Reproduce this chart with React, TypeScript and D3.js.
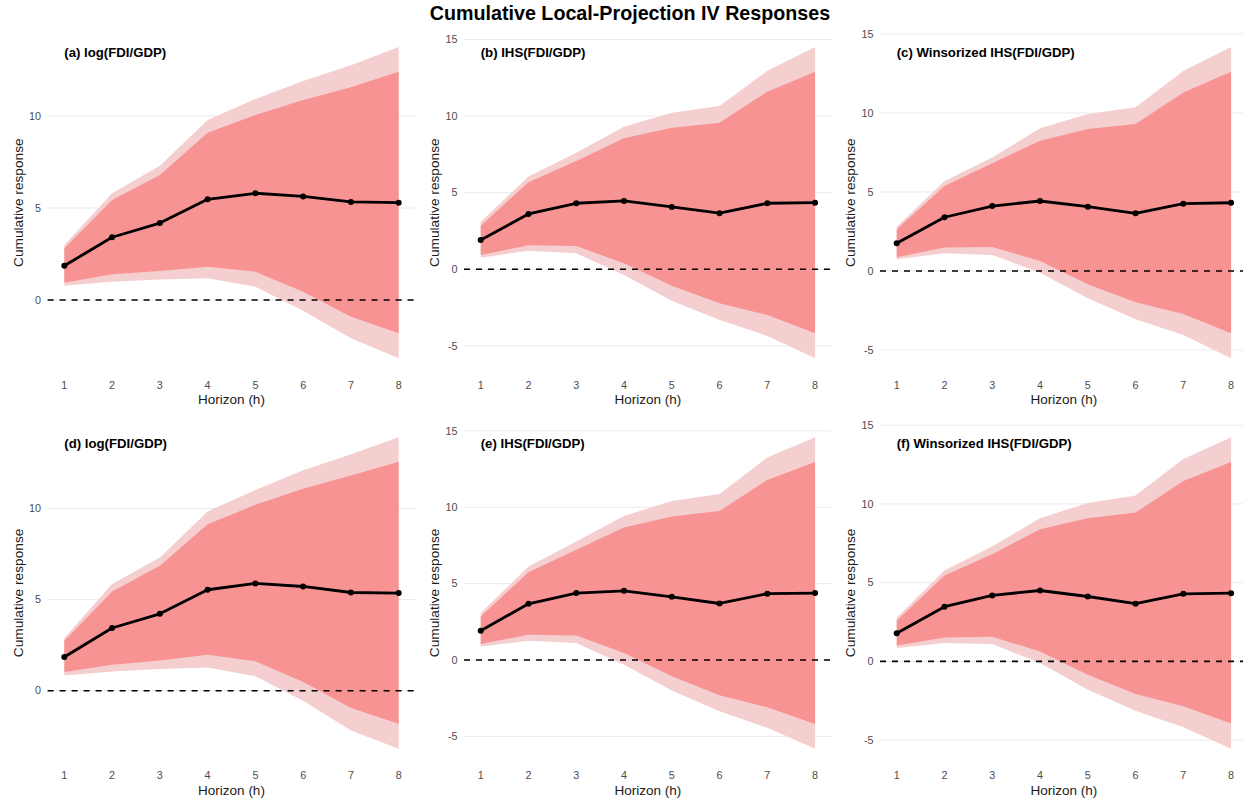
import { useEffect, useRef } from "react";
import * as d3 from "d3";

const horizons = [1, 2, 3, 4, 5, 6, 7, 8];

const panelTitles = [
  "(a) log(FDI/GDP)",
  "(b) IHS(FDI/GDP)",
  "(c) Winsorized IHS(FDI/GDP)",
  "(d) log(FDI/GDP)",
  "(e) IHS(FDI/GDP)",
  "(f) Winsorized IHS(FDI/GDP)",
];

// point estimate, 68% band, 90% band per panel
const irfA = [1.86, 3.41, 4.18, 5.47, 5.8, 5.63, 5.33, 5.29];
const hi90A = [2.99, 5.8, 7.3, 9.78, 10.92, 11.9, 12.75, 13.75];
const hi68A = [2.81, 5.43, 6.79, 9.09, 10.05, 10.87, 11.56, 12.41];
const lo68A = [0.94, 1.4, 1.58, 1.81, 1.54, 0.45, -0.91, -1.81];
const lo90A = [0.78, 0.99, 1.12, 1.18, 0.72, -0.58, -2.08, -3.17];

const irfB = [1.91, 3.61, 4.31, 4.46, 4.07, 3.66, 4.31, 4.35];
const hi90B = [3.11, 6.05, 7.61, 9.31, 10.22, 10.66, 12.96, 14.51];
const hi68B = [2.85, 5.68, 7.07, 8.55, 9.24, 9.57, 11.59, 12.9];
const lo68B = [0.93, 1.57, 1.52, 0.39, -1.07, -2.22, -2.98, -4.18];
const lo90B = [0.76, 1.21, 1.04, -0.37, -2.05, -3.31, -4.35, -5.81];

const irfC = [1.75, 3.4, 4.11, 4.43, 4.07, 3.65, 4.26, 4.32];
const hi90C = [2.8, 5.7, 7.19, 9.03, 9.94, 10.36, 12.66, 14.18];
const hi68C = [2.64, 5.38, 6.82, 8.25, 8.99, 9.3, 11.29, 12.61];
const lo68C = [0.87, 1.48, 1.52, 0.63, -0.84, -1.98, -2.72, -3.94];
const lo90C = [0.74, 1.12, 1.01, -0.11, -1.73, -3.06, -4.05, -5.53];

const irfD = [1.85, 3.44, 4.22, 5.54, 5.89, 5.72, 5.39, 5.36];
const hi90D = [2.89, 5.85, 7.31, 9.84, 11.02, 12.1, 12.98, 13.91];
const hi68D = [2.74, 5.45, 6.86, 9.14, 10.2, 11.08, 11.81, 12.56];
const lo68D = [1.02, 1.43, 1.66, 1.97, 1.61, 0.48, -0.95, -1.81];
const lo90D = [0.84, 1.06, 1.19, 1.28, 0.79, -0.55, -2.19, -3.18];

const irfE = [1.92, 3.68, 4.38, 4.53, 4.14, 3.7, 4.34, 4.38];
const hi90E = [3.07, 6.12, 7.76, 9.43, 10.41, 10.87, 13.25, 14.58];
const hi68E = [2.85, 5.75, 7.21, 8.67, 9.39, 9.76, 11.79, 12.96];
const lo68E = [1.05, 1.66, 1.61, 0.46, -1.07, -2.31, -3.09, -4.18];
const lo90E = [0.89, 1.26, 1.11, -0.31, -2.0, -3.36, -4.44, -5.8];

const irfF = [1.78, 3.47, 4.19, 4.5, 4.12, 3.66, 4.29, 4.33];
const hi90F = [2.79, 5.77, 7.29, 9.09, 10.06, 10.53, 12.85, 14.23];
const hi68F = [2.58, 5.45, 6.81, 8.39, 9.09, 9.45, 11.46, 12.66];
const lo68F = [1.01, 1.52, 1.56, 0.63, -0.85, -2.07, -2.85, -3.95];
const lo90F = [0.85, 1.16, 1.1, -0.11, -1.8, -3.13, -4.19, -5.54];

const series = [
  [irfA, lo68A, hi68A, lo90A, hi90A],
  [irfB, lo68B, hi68B, lo90B, hi90B],
  [irfC, lo68C, hi68C, lo90C, hi90C],
  [irfD, lo68D, hi68D, lo90D, hi90D],
  [irfE, lo68E, hi68E, lo90E, hi90E],
  [irfF, lo68F, hi68F, lo90F, hi90F],
];

const W = 1243;
const H = 800;
const FONT = "'Liberation Sans', Arial, sans-serif";

export default function App() {
  const ref = useRef<SVGSVGElement | null>(null);

  useEffect(() => {
    const svg = d3.select(ref.current);
    svg.selectAll("*").remove();

    svg
      .append("text")
      .attr("x", 630)
      .attr("y", 19.5)
      .attr("text-anchor", "middle")
      .attr("font-family", FONT)
      .attr("font-weight", "bold")
      .attr("font-size", 19.7)
      .text("Cumulative Local-Projection IV Responses");

    const colLeft = [47.6, 464, 880];
    const rowTop = [31.4, 421.7];
    const pw = 367.8;
    const ph = 342.5;

    series.forEach((s, i) => {
      const [irf, lo68, hi68, lo90, hi90] = s;
      const left = colLeft[i % 3];
      const top = rowTop[Math.floor(i / 3)];

      const x = d3
        .scaleLinear()
        .domain([0.65, 8.35])
        .range([left, left + pw]);

      const lo = d3.min(lo90) as number;
      const hi = d3.max(hi90) as number;
      const pad = (hi - lo) * 0.05;
      const y = d3
        .scaleLinear()
        .domain([lo - pad, hi + pad])
        .range([top + ph, top]);

      const g = svg.append("g");

      // horizontal grid
      g.selectAll("line.grid")
        .data(y.ticks(5))
        .enter()
        .append("line")
        .attr("x1", left)
        .attr("x2", left + pw)
        .attr("y1", (d) => y(d))
        .attr("y2", (d) => y(d))
        .attr("stroke", "#ebebeb")
        .attr("stroke-width", 1);

      const band = (a: number[], b: number[]) =>
        d3
          .area<number>()
          .x((d) => x(d))
          .y0((_, j) => y(a[j]))
          .y1((_, j) => y(b[j]))(horizons);

      g.append("path").attr("d", band(lo90, hi90)).attr("fill", "#f5cfd0");
      g.append("path").attr("d", band(lo68, hi68)).attr("fill", "#f89393");

      g.append("line")
        .attr("x1", left)
        .attr("x2", left + pw)
        .attr("y1", y(0))
        .attr("y2", y(0))
        .attr("stroke", "#000")
        .attr("stroke-width", 1.6)
        .attr("stroke-dasharray", "6,6");

      const line = d3
        .line<number>()
        .x((d) => x(d))
        .y((_, j) => y(irf[j]));

      g.append("path")
        .attr("d", line(horizons))
        .attr("fill", "none")
        .attr("stroke", "#000")
        .attr("stroke-width", 2.8)
        .attr("stroke-linejoin", "round");

      g.selectAll("circle")
        .data(horizons)
        .enter()
        .append("circle")
        .attr("cx", (d) => x(d))
        .attr("cy", (_, j) => y(irf[j]))
        .attr("r", 3)
        .attr("fill", "#000");

      // y tick labels
      g.selectAll("text.ytick")
        .data(y.ticks(5))
        .enter()
        .append("text")
        .attr("x", left - 6.5)
        .attr("y", (d) => y(d))
        .attr("dy", "0.35em")
        .attr("text-anchor", "end")
        .attr("font-family", FONT)
        .attr("font-size", 10.8)
        .attr("fill", "#4d4d4d")
        .text((d) => String(d));

      // x tick labels
      g.selectAll("text.xtick")
        .data(horizons)
        .enter()
        .append("text")
        .attr("x", (d) => x(d))
        .attr("y", top + ph + 15)
        .attr("text-anchor", "middle")
        .attr("font-family", FONT)
        .attr("font-size", 10.8)
        .attr("fill", "#4d4d4d")
        .text((d) => String(d));

      g.append("text")
        .attr("x", left + pw / 2)
        .attr("y", top + ph + 30.5)
        .attr("text-anchor", "middle")
        .attr("font-family", FONT)
        .attr("font-size", 13.5)
        .attr("fill", "#1a1a1a")
        .text("Horizon (h)");

      g.append("text")
        .attr(
          "transform",
          `translate(${left - 25},${top + ph / 2}) rotate(-90)`
        )
        .attr("text-anchor", "middle")
        .attr("font-family", FONT)
        .attr("font-size", 13.7)
        .attr("fill", "#1a1a1a")
        .text("Cumulative response");

      g.append("text")
        .attr("x", x(1))
        .attr("y", top + 25.8)
        .attr("font-family", FONT)
        .attr("font-weight", "bold")
        .attr("font-size", 13.2)
        .attr("fill", "#000")
        .text(panelTitles[i]);
    });
  }, []);

  return (
    <>
      <style>{`body{margin:0}`}</style>
      <svg ref={ref} width={W} height={H} style={{ display: "block", background: "#fff" }} />
    </>
  );
}
